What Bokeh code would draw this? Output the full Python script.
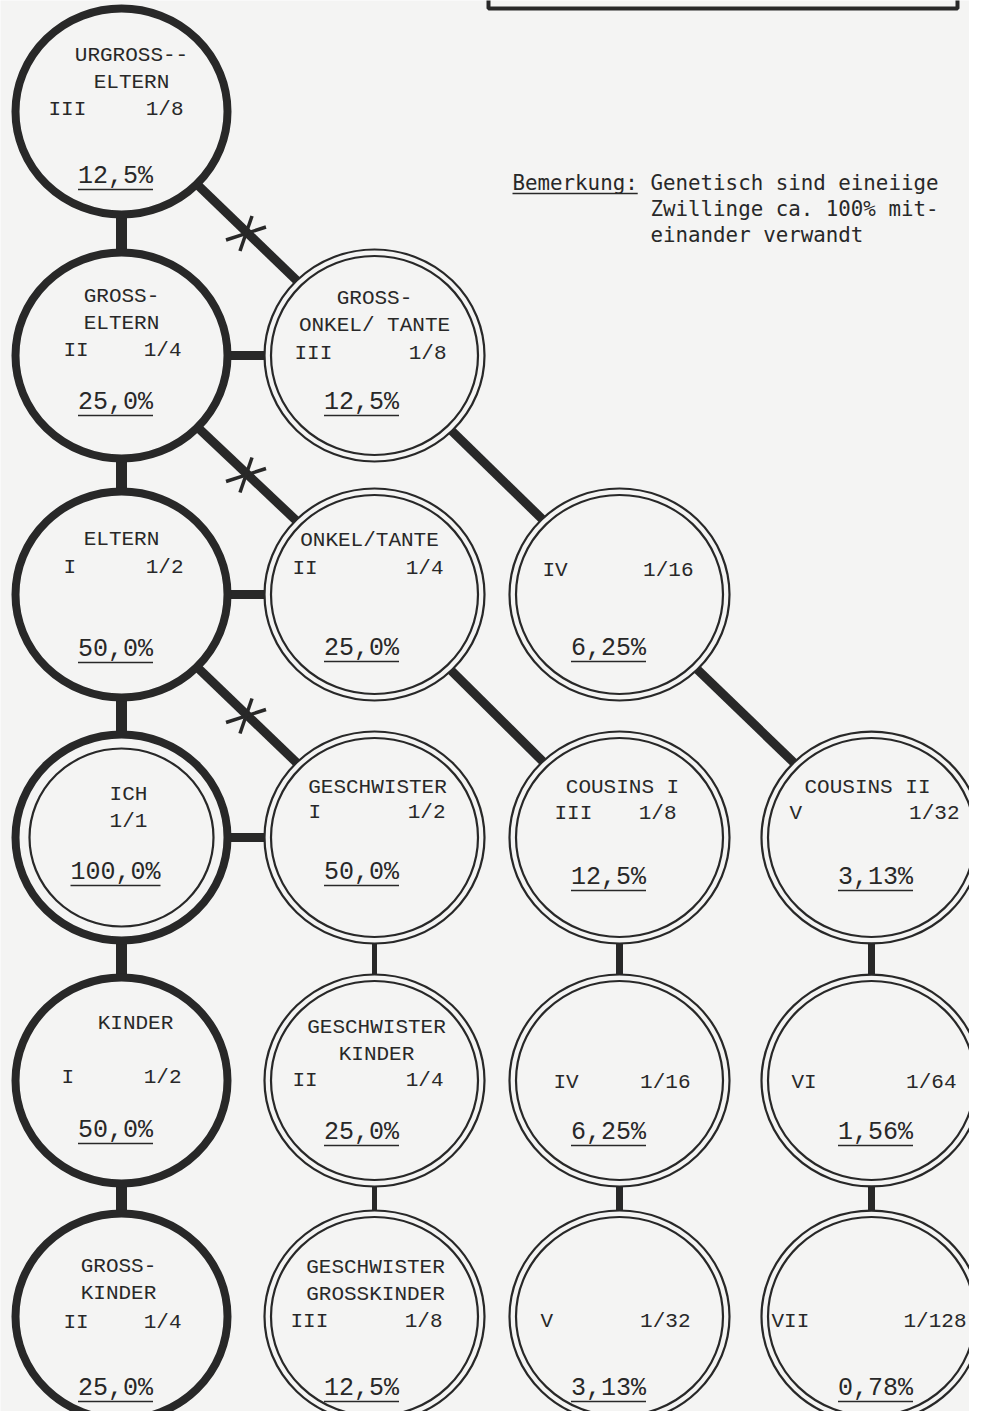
import math
from bokeh.plotting import figure
from bokeh.models import Range1d
from bokeh.core.properties import value
from bokeh.embed import file_html
from bokeh.resources import INLINE

# ---------------- data ----------------
node_names = [
    ["URGROSS--", "ELTERN"], ["GROSS-", "ELTERN"], ["ELTERN"], ["ICH"], ["KINDER"], ["GROSS-", "KINDER"],
    ["GROSS-", "ONKEL/ TANTE"], ["ONKEL/TANTE"], ["GESCHWISTER"], ["GESCHWISTER", "KINDER"],
    ["GESCHWISTER", "GROSSKINDER"],
    [], ["COUSINS I"], [], [],
    ["COUSINS II"], [], [],
]
degree = ["III", "II", "I", "", "I", "II",
          "III", "II", "I", "II", "III",
          "IV", "III", "IV", "V",
          "V", "VI", "VII"]
fraction = ["1/8", "1/4", "1/2", "1/1", "1/2", "1/4",
            "1/8", "1/4", "1/2", "1/4", "1/8",
            "1/16", "1/8", "1/16", "1/32",
            "1/32", "1/64", "1/128"]
percent = ["12,5%", "25,0%", "50,0%", "100,0%", "50,0%", "25,0%",
           "12,5%", "25,0%", "50,0%", "25,0%", "12,5%",
           "6,25%", "12,5%", "6,25%", "3,13%",
           "3,13%", "1,56%", "0,78%"]
node_col = [0, 0, 0, 0, 0, 0, 1, 1, 1, 1, 1, 2, 2, 2, 2, 3, 3, 3]
node_row = [0, 1, 2, 3, 4, 5, 1, 2, 3, 4, 5, 2, 3, 4, 5, 3, 4, 5]
self_node = 3

edge_from = [0, 1, 2, 3, 4, 1, 2, 3, 8, 9, 12, 13, 15, 16, 0, 1, 2, 6, 7, 11]
edge_to   = [1, 2, 3, 4, 5, 6, 7, 8, 9, 10, 13, 14, 16, 17, 6, 7, 8, 11, 12, 15]
edge_marked = [False] * 14 + [True, True, True, False, False, False]

note_label = "Bemerkung:"
note_lines = ["Genetisch sind eineiige", "Zwillinge ca. 100% mit-", "einander verwandt"]

# ---------------- layout / style ----------------
col_x = [121, 374, 619, 871]
row_y = [111, 355, 594, 837, 1080, 1316]
INK = "#282828"
PAPER = "#f4f4f3"
NAME_FONT = value("Liberation Mono")
PCT_FONT = value("Liberation Mono")
NOTE_FONT = value("DejaVu Sans Mono")

# per-node text layout offsets (relative to circle centre)
name_y0 = [-56, -59, -55, -43, -57, -50, -57, -54, -50, -53, -49, 0, -50, 0, 0, -50, 0, 0]
name_dx = [10, 0, 0, 7, 14, -3, 0, -5, 3, 2, 1, 0, 3, 0, 0, -4, 0, 0]
deg_y = [-2, -5, -27, -16, -3, 6, -2, -26, -25, 0, 5, -24, -24, 2, 5, -24, 2, 5]
deg_left = [-73, -58, -58, 0, -60, -58, -80, -82, -66, -82, -84, -77, -65, -66, -79, -82, -80, -100]
frac_right = [62, 60, 62, 7, 60, 60, 72, 69, 71, 69, 68, 74, 57, 71, 71, 88, 85, 95]
pct_y = [65, 47, 55, 35, 50, 72, 47, 54, 35, 52, 72, 54, 40, 52, 72, 40, 52, 72]
pct_dx_col = [-6, -13, -11, 4]
LINE_GAP = 27
NAME_SIZE = 21
PCT_SIZE = 25

W, H = 969, 1411
p = figure(width=W, height=H, x_range=Range1d(0, W), y_range=Range1d(H, 0),
           output_backend="svg", toolbar_location=None, min_border=0)
p.axis.visible = False
p.grid.visible = False
p.outline_line_color = None
p.background_fill_color = PAPER
p.border_fill_color = PAPER

nx = [col_x[c] for c in node_col]
ny = [row_y[r] for r in node_row]

# top box (cut at the page top)
p.quad(left=[488], right=[957], top=[-40], bottom=[8], fill_color=None, line_color=INK, line_width=4)

# connectors
for a, b in zip(edge_from, edge_to):
    if node_col[a] == node_col[b]:
        w = 11 if node_col[a] == 0 else (5 if node_col[a] == 1 else 7)
    else:
        w = 9
    p.line([nx[a], nx[b]], [ny[a], ny[b]], line_color=INK, line_width=w)

# circles
direct = [i for i in range(len(nx)) if node_col[i] == 0 and i != self_node]
collat = [i for i in range(len(nx)) if node_col[i] != 0]
p.ellipse(x=[nx[i] for i in direct], y=[ny[i] for i in direct], width=212, height=206,
          fill_color=PAPER, line_color=INK, line_width=8)
p.ellipse(x=[nx[i] for i in collat], y=[ny[i] for i in collat], width=220, height=212,
          fill_color=PAPER, line_color=INK, line_width=2.2)
p.ellipse(x=[nx[i] for i in collat], y=[ny[i] for i in collat], width=207, height=199,
          fill_color=None, line_color=INK, line_width=2.2)
p.ellipse(x=[nx[self_node]], y=[ny[self_node]], width=212, height=206,
          fill_color=PAPER, line_color=INK, line_width=8)
p.ellipse(x=[nx[self_node]], y=[ny[self_node]], width=184, height=178,
          fill_color=None, line_color=INK, line_width=2.2)

# cross marks on the marked edges (two strokes each)
sx0, sy0, sx1, sy1 = [], [], [], []
for a, b, m in zip(edge_from, edge_to, edge_marked):
    if not m:
        continue
    cx, cy = (nx[a] + nx[b]) / 2 - 2, (ny[a] + ny[b]) / 2
    for ang, ln in ((18, 42), (71, 37)):
        r = math.radians(ang)
        dx, dy = ln / 2 * math.cos(r), ln / 2 * math.sin(r)
        sx0.append(cx - dx); sy0.append(cy + dy); sx1.append(cx + dx); sy1.append(cy - dy)
p.segment(x0=sx0, y0=sy0, x1=sx1, y1=sy1, line_color=INK, line_width=3.5)

# node texts
tx, ty, tt = [], [], []
for i, lines in enumerate(node_names):
    for k, s in enumerate(lines):
        tx.append(nx[i] + name_dx[i])
        ty.append(ny[i] + name_y0[i] + k * LINE_GAP)
        tt.append(s)
tx.append(nx[self_node] + frac_right[self_node]); ty.append(ny[self_node] + deg_y[self_node]); tt.append(fraction[self_node])
p.text(x=tx, y=ty, text=tt, text_font=NAME_FONT, text_font_size=f"{NAME_SIZE}px",
       text_align="center", text_baseline="middle", text_color=INK)

others = [i for i in range(len(nx)) if i != self_node]
p.text(x=[nx[i] + deg_left[i] for i in others], y=[ny[i] + deg_y[i] for i in others],
       text=[degree[i] for i in others], text_font=NAME_FONT, text_font_size=f"{NAME_SIZE}px",
       text_align="left", text_baseline="middle", text_color=INK)
p.text(x=[nx[i] + frac_right[i] for i in others], y=[ny[i] + deg_y[i] for i in others],
       text=[fraction[i] for i in others], text_font=NAME_FONT, text_font_size=f"{NAME_SIZE}px",
       text_align="right", text_baseline="middle", text_color=INK)

px = [nx[i] + pct_dx_col[node_col[i]] for i in range(len(nx))]
py = [ny[i] + pct_y[i] for i in range(len(nx))]
p.text(x=px, y=py, text=percent, text_font=PCT_FONT, text_font_size=f"{PCT_SIZE}px",
       text_align="center", text_baseline="middle", text_color=INK)
half = [len(s) * 0.6 * PCT_SIZE / 2 for s in percent]
p.segment(x0=[x - h for x, h in zip(px, half)], x1=[x + h for x, h in zip(px, half)],
          y0=[y + 13 for y in py], y1=[y + 13 for y in py], line_color=INK, line_width=1.6)

# remark
NOTE_SIZE = 20.8
p.text(x=[512], y=[182], text=[note_label], text_font=NOTE_FONT, text_font_size=f"{NOTE_SIZE}px",
       text_align="left", text_baseline="middle", text_color=INK)
p.segment(x0=[512], x1=[512 + len(note_label) * 0.602 * NOTE_SIZE], y0=[193], y1=[193],
          line_color=INK, line_width=1.6)
p.text(x=[650] * len(note_lines), y=[182 + 26 * k for k in range(len(note_lines))], text=note_lines,
       text_font=NOTE_FONT, text_font_size=f"{NOTE_SIZE}px",
       text_align="left", text_baseline="middle", text_color=INK)

open("out.html", "w").write(file_html(p, INLINE))
